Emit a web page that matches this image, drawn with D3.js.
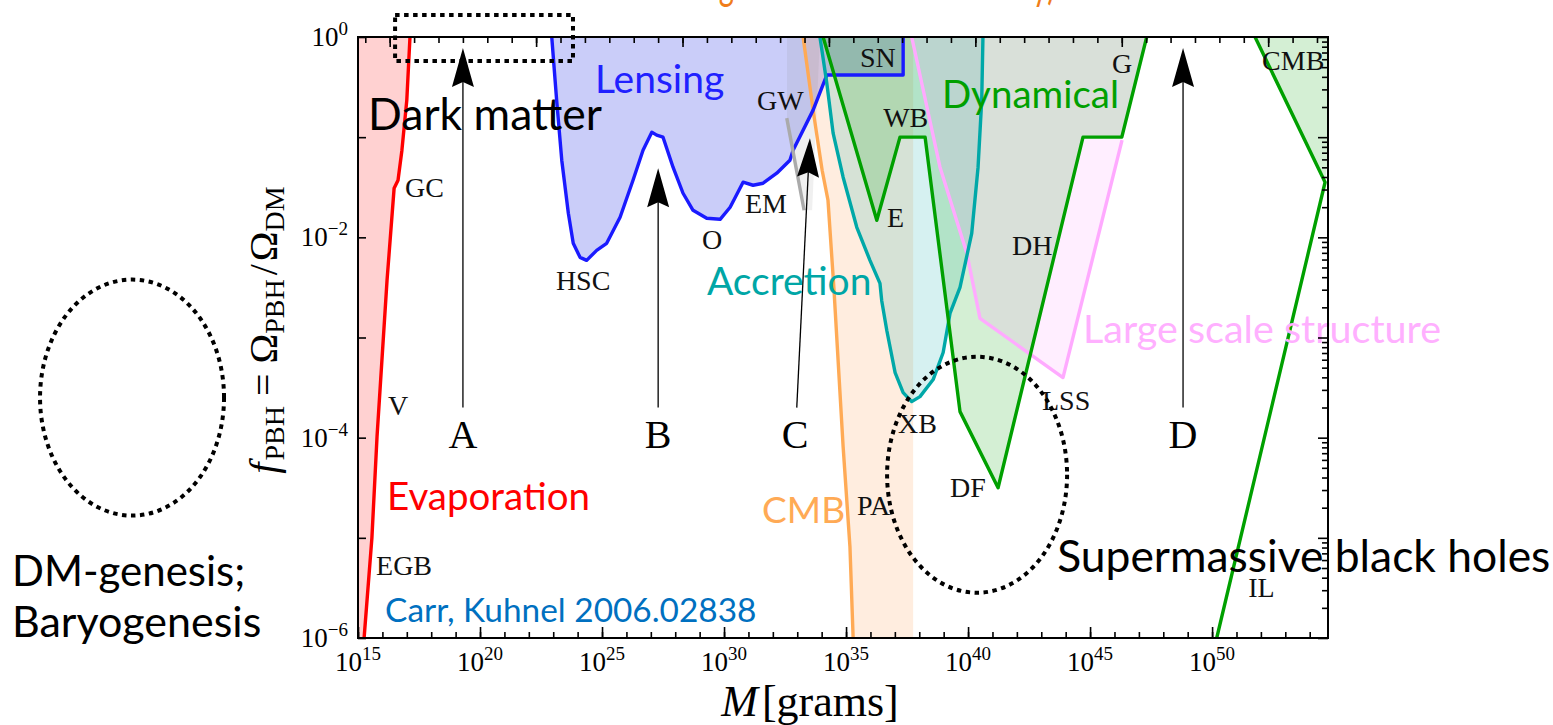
<!DOCTYPE html>
<html>
<head>
<meta charset="utf-8">
<script src="https://cdn.jsdelivr.net/npm/d3@7"></script>
<style>
  body { margin: 0; background: #fff; }
  svg { display: block; }
</style>
</head>
<body>
<script>
// every curve is a list of [log10(M / grams), log10(f_PBH)]
var evaporation = [[15.25,-6],[15.57,-5],[15.78,-3.99],[16.19,-2.43],[16.48,-1.51],[16.64,-1.43],[16.80,-1.13],[17.0,-0.63],[17.13,0]];
var lensing = [[22.94,0],[23.14,-0.63],[23.35,-1.23],[23.62,-1.76],[23.82,-2.06],[24.10,-2.20],[24.37,-2.23],[24.78,-2.13],[25.19,-2.06],[25.74,-1.80],[26.27,-1.43],[26.68,-1.13],[27.04,-0.95],[27.24,-0.98],[27.50,-1.00],[27.91,-1.30],[28.32,-1.56],[28.73,-1.73],[29.29,-1.81],[29.84,-1.82],[30.25,-1.70],[30.78,-1.45],[31.19,-1.48],[31.60,-1.46],[32.16,-1.36],[32.70,-1.23],[32.83,-1.13],[33.65,-0.73],[34.21,-0.38],[37.34,-0.38],[37.34,0]];
var cmbAccretion = [[33.24,0],[33.65,-0.73],[34.02,-1.33],[34.26,-1.63],[34.50,-2.50],[34.88,-4.09],[35.16,-5.09],[35.29,-6]];
var cmbAccretionEdge = 37.75;
var gwLine = [[32.57,-0.81],[33.28,-1.73]];
var gwRegion = [[32.58,0],[32.58,-0.81],[33.28,-1.73],[33.61,-1.73],[33.93,0]];
var accretion = [[33.93,0],[34.21,-0.46],[34.47,-0.96],[34.88,-1.40],[35.44,-1.90],[35.98,-2.23],[36.39,-2.46],[36.46,-2.63],[36.67,-2.93],[37.01,-3.35],[37.34,-3.55],[37.69,-3.64],[38.03,-3.59],[38.57,-3.42],[38.98,-3.15],[39.26,-2.76],[39.67,-2.50],[40.15,-1.96],[40.41,-1.30],[40.56,-0.63],[40.61,0]];
var dynamical = [[34.06,0],[36.26,-1.83],[37.21,-1.0],[38.24,-1.0],[39.67,-3.74],[41.23,-4.50],[44.71,-1.0],[46.30,-1.0],[47.32,0]];
var lss = [[37.69,0],[38.85,-1.30],[39.95,-2.16],[40.49,-2.81],[43.89,-3.40],[46.31,-1.03]];
var lssTop = [[47.32,0]];
var cmbDyn = [[51.76,0],[54.63,-1.45],[50.19,-6]];
var cmbDynRegion = [[51.76,0],[54.63,-1.45],[54.75,-1.2],[54.75,0]];

// constraint tags: [text, log M, log f] (start of baseline)
var tags = [["GC",16.93,-1.60],["HSC",23.11,-2.53],["O",29.10,-2.12],["EM",30.86,-1.76],["GW",31.35,-0.73],
  ["SN",35.57,-0.30],["WB",36.52,-0.90],["E",36.68,-1.90],["G",45.90,-0.36],["DH",41.80,-2.18],["CMB",52.05,-0.33],
  ["XB",37.13,-3.95],["LSS",43.03,-3.72],["DF",39.26,-4.59],["PA",35.45,-4.77],["IL",51.48,-5.59],["V",16.23,-3.77],["EGB",15.74,-5.37]];
var groupNames = ["Dark matter","Lensing","Dynamical","Accretion","Large scale structure","Evaporation","CMB","Carr, Kuhnel 2006.02838","Supermassive black holes","DM-genesis;","Baryogenesis"];
var groupPos = [[15.41,-0.93],[24.71,-0.56],[38.93,-0.71],[29.30,-2.58],[44.71,-3.05],[16.19,-4.72],[31.56,-4.85],[16.11,-5.84],[43.65,-5.34],[0.82,-5.48],[0.82,-5.99]];
// window arrows: letter, bottom [log M, log f], tip [log M, log f]
var arrowNames = ["A","B","C","D"];
var arrowFrom = [[19.30,-3.70],[27.30,-3.70],[32.98,-3.70],[48.81,-3.70]];
var arrowTo = [[19.30,-0.11],[27.30,-1.31],[33.52,-1.01],[48.81,-0.11]];
var arrowLetterAt = [[19.30,-4.10],[27.30,-4.10],[32.91,-4.10],[48.81,-4.10]];

var xTickLabels = [15,20,25,30,35,40,45,50];
var yTickLabels = [0,-2,-4,-6];

var W = 1553, H = 725;
var margin = {top: 37, right: 225, bottom: 87, left: 358};
var width = W - margin.left - margin.right;
var height = H - margin.top - margin.bottom;
var serif = '"Liberation Serif", "DejaVu Serif", serif';
var sans = 'Lato, "Open Sans", sans-serif';

var svg = d3.select("body").append("svg").attr("width", W).attr("height", H);
var g = svg.append("g").attr("transform", "translate(" + margin.left + "," + margin.top + ")");

var x = d3.scaleLog().domain([1e15, Math.pow(10, 54.75)]).range([0, width]);
var y = d3.scaleLog().domain([1e-6, 1]).range([height, 0]);
var px = function(d) { return x(Math.pow(10, d[0])); };
var py = function(d) { return y(Math.pow(10, d[1])); };
var line = d3.line().x(px).y(py);

g.append("clipPath").attr("id", "plot").append("rect").attr("width", width).attr("height", height);
var area = g.append("g").attr("clip-path", "url(#plot)");

// shaded regions
var fills = [
  {pts: [[15,-6]].concat(evaporation, [[15,0]]), c: "#ff0000", o: 0.18},
  {pts: lensing, c: "#2a36e8", o: 0.25},
  {pts: cmbAccretion.concat([[cmbAccretionEdge,-6],[cmbAccretionEdge,0]]), c: "#ff9640", o: 0.17},
  {pts: gwRegion, c: "#808080", o: 0.12},
  {pts: accretion, c: "#00a5a5", o: 0.16},
  {pts: dynamical, c: "#00a000", o: 0.17},
  {pts: lss.concat(lssTop), c: "#ff78ff", o: 0.125},
  {pts: cmbDynRegion, c: "#00a000", o: 0.17}
];
fills.forEach(function(f) {
  area.append("path").attr("d", line(f.pts) + "Z")
    .attr("fill", f.c).attr("fill-opacity", f.o).attr("stroke", "none");
});

var strokes = [
  {pts: lss, c: "#ffaaff"},
  {pts: cmbAccretion, c: "#ffaa55"},
  {pts: lensing, c: "#1a1aff"},
  {pts: gwLine, c: "#aaaaaa"},
  {pts: accretion, c: "#00a8a8"},
  {pts: dynamical, c: "#00a000"},
  {pts: cmbDyn, c: "#00a000"},
  {pts: evaporation, c: "#ff0000"}
];
strokes.forEach(function(s) {
  area.append("path").attr("d", line(s.pts))
    .attr("fill", "none").attr("stroke", s.c).attr("stroke-width", 3.4)
    .attr("stroke-linejoin", "round");
});

// constraint tags
g.selectAll(".tag").data(tags).enter().append("text")
  .attr("class", "tag")
  .attr("x", function(d) { return px([d[1], d[2]]); })
  .attr("y", function(d) { return py([d[1], d[2]]); })
  .attr("font-family", serif).attr("font-size", 28).attr("fill", "#111")
  .text(function(d) { return d[0]; });

// window arrows
arrowNames.forEach(function(n, i) {
  var x0 = px(arrowFrom[i]), y0 = py(arrowFrom[i]);
  var x1 = px(arrowTo[i]), y1 = py(arrowTo[i]);
  var dx = x1 - x0, dy = y1 - y0, L = Math.sqrt(dx * dx + dy * dy);
  var ux = dx / L, uy = dy / L, hl = 39, hw = 11;
  var bx = x1 - ux * hl, by = y1 - uy * hl;
  g.append("line").attr("x1", x0).attr("y1", y0).attr("x2", bx + ux * 8).attr("y2", by + uy * 8)
    .attr("stroke", "#000").attr("stroke-width", 1.3);
  g.append("path")
    .attr("d", "M" + x1 + "," + y1 + "L" + (bx - uy * hw) + "," + (by + ux * hw) +
      "L" + (bx + ux * 5) + "," + (by + uy * 5) + "L" + (bx + uy * hw) + "," + (by - ux * hw) + "Z")
    .attr("fill", "#000");
  g.append("text")
    .attr("x", px(arrowLetterAt[i])).attr("y", py(arrowLetterAt[i]))
    .attr("text-anchor", "middle").attr("font-family", serif).attr("font-size", 40)
    .text(n);
});

// group names
var groupStyle = {
  "Dark matter": ["#000", 44.5], "Lensing": ["#2020ff", 39], "Dynamical": ["#00a000", 38.5],
  "Accretion": ["#00a6a6", 39], "Large scale structure": ["#ffb0ff", 39.5], "Evaporation": ["#ff0000", 38.5],
  "CMB": ["#ffaa55", 37], "Carr, Kuhnel 2006.02838": ["#0070c0", 33.4],
  "Supermassive black holes": ["#000", 44.4], "DM-genesis;": ["#000", 42], "Baryogenesis": ["#000", 43]
};
groupNames.forEach(function(n, i) {
  g.append("text")
    .attr("x", px(groupPos[i])).attr("y", py(groupPos[i]))
    .attr("font-family", sans).attr("font-size", groupStyle[n][1]).attr("fill", groupStyle[n][0])
    .text(n);
});

// dotted marks
g.append("rect")
  .attr("x", px([16.52, 0])).attr("y", py([0, 0.22]))
  .attr("width", px([23.81, 0]) - px([16.52, 0])).attr("height", py([0, -0.24]) - py([0, 0.22]))
  .attr("fill", "none").attr("stroke", "#000").attr("stroke-width", 4).attr("stroke-dasharray", "4.5 4.5");
[[5.74, -3.60, 92, 118], [40.37, -4.37, 90, 118]].forEach(function(e) {
  g.append("ellipse")
    .attr("cx", px(e)).attr("cy", py(e)).attr("rx", e[2]).attr("ry", e[3])
    .attr("fill", "none").attr("stroke", "#000").attr("stroke-width", 4).attr("stroke-dasharray", "4.5 4.5");
});

// axes
var decadesY = d3.range(-6, 1).map(function(k) { return Math.pow(10, k); });
var minorY = [];
d3.range(-6, 0).forEach(function(k) { d3.range(2, 10).forEach(function(m) { minorY.push(m * Math.pow(10, k)); }); });
var decadesX = d3.range(15, 55).map(function(k) { return Math.pow(10, k); });
var majorX = xTickLabels.map(function(k) { return Math.pow(10, k); });
var sunTicks = [], sunMajor = [];
d3.range(-18, 22).forEach(function(k) {
  var v = 1.989e33 * Math.pow(10, k);
  if (v > 1e15 && v < Math.pow(10, 54.75)) { sunTicks.push(v); if (((k % 6) + 6) % 6 === 1) sunMajor.push(v); }
});

function ticks(axis, tr) {
  var a = g.append("g").attr("transform", tr || null).call(axis);
  a.select(".domain").remove();
  a.selectAll("line").attr("stroke", "#000").attr("stroke-width", 1.6);
}
ticks(d3.axisLeft(y).tickValues(decadesY).tickSize(-8).tickFormat(""));
ticks(d3.axisRight(y).tickValues(decadesY).tickSize(-10).tickFormat(""), "translate(" + width + ",0)");
ticks(d3.axisRight(y).tickValues(minorY).tickSize(-6).tickFormat(""), "translate(" + width + ",0)");
ticks(d3.axisBottom(x).tickValues(decadesX).tickSize(-6).tickFormat(""), "translate(0," + height + ")");
ticks(d3.axisBottom(x).tickValues(majorX).tickSize(-11).tickFormat(""), "translate(0," + height + ")");
ticks(d3.axisTop(x).tickValues(sunTicks).tickSize(-6).tickFormat(""));
ticks(d3.axisTop(x).tickValues(sunMajor).tickSize(-10).tickFormat(""));

g.append("rect").attr("width", width).attr("height", height)
  .attr("fill", "none").attr("stroke", "#000").attr("stroke-width", 2);

xTickLabels.forEach(function(k) {
  var t = g.append("text").attr("x", x(Math.pow(10, k))).attr("y", height + 33)
    .attr("text-anchor", "middle").attr("font-family", serif).attr("font-size", 27);
  t.append("tspan").text("10");
  t.append("tspan").attr("dy", -11).attr("font-size", 19).text(k);
});
yTickLabels.forEach(function(k) {
  var t = g.append("text").attr("x", -10).attr("y", y(Math.pow(10, k)) + 9)
    .attr("text-anchor", "end").attr("font-family", serif).attr("font-size", 27);
  t.append("tspan").text("10");
  t.append("tspan").attr("dy", -11).attr("font-size", 19).text(k === 0 ? "0" : "\u2212" + (-k));
});

// axis titles
var xl = g.append("text").attr("x", width / 2 - 33).attr("y", height + 78)
  .attr("text-anchor", "middle").attr("font-family", serif).attr("font-size", 44);
xl.append("tspan").attr("font-style", "italic").text("M");
xl.append("tspan").attr("dx", 4).text("[grams]");

var yl = svg.append("text").attr("transform", "translate(277,330) rotate(-90)")
  .attr("text-anchor", "middle").attr("font-family", serif).attr("font-size", 40);
yl.append("tspan").attr("font-style", "italic").text("f");
yl.append("tspan").attr("dx", 2).attr("dy", 7).attr("font-size", 28).text("PBH");
yl.append("tspan").attr("dx", 10).attr("dy", -7).text("=");
yl.append("tspan").attr("dx", 10).text("\u03a9");
yl.append("tspan").attr("dy", 7).attr("font-size", 28).text("PBH");
yl.append("tspan").attr("dx", 4).attr("dy", -7).text("/");
yl.append("tspan").attr("dx", 3).text("\u03a9");
yl.append("tspan").attr("dy", 7).attr("font-size", 28).text("DM");

// orange banner, mostly above the page edge
svg.append("text").attr("x", 650).attr("y", -1)
  .attr("font-family", sans).attr("font-size", 44).attr("fill", "#f07d1a")
  .attr("textLength", 405).attr("lengthAdjust", "spacingAndGlyphs")
  .text("Strong bounds from astronomy)");
</script>
</body>
</html>
